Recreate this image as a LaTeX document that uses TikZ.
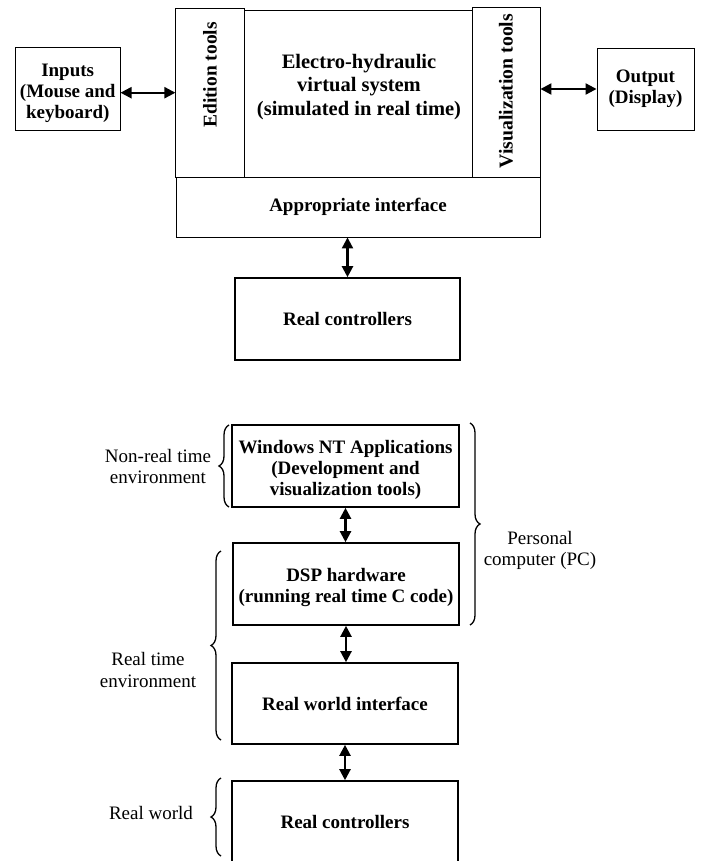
\documentclass[tikz,border=0pt]{standalone}
\usepackage{fontspec}
\setmainfont{Liberation Serif}
\usetikzlibrary{arrows.meta,decorations.pathreplacing}
\begin{document}
\begin{tikzpicture}[x=1pt,y=-1pt,
  thinbox/.style={draw,line width=0.9pt,inner sep=0pt,align=center,
    font=\fontsize{19}{21}\selectfont\bfseries},
  thickbox/.style={thinbox,line width=1.6pt},
  btext/.style={inner sep=0pt,align=center,font=\fontsize{19}{21}\selectfont\bfseries},
  lbl/.style={inner sep=0pt,align=center,font=\fontsize{19}{21.5}\selectfont},
  darrow/.style={{Triangle[length=11pt,width=11pt]}-{Triangle[length=11pt,width=11pt]},line width=2.2pt},
  bracestyle/.style={decorate,decoration={brace,amplitude=10pt},line width=1.3pt}]
\clip (0,0) rectangle (701,861);
% top part
\node[thinbox,minimum width=104.7pt,minimum height=83pt] (inputs) at (67.7,88.5) {};
\node[btext] (intext) at (67.7,93) {Inputs\\(Mouse and\\keyboard)};
\node[thinbox,minimum width=68.3pt,minimum height=168.7pt] (edition) at (210,92.7) {};
\node[btext,rotate=90,font=\fontsize{19.5}{21}\selectfont\bfseries] (edlbl) at (210,75) {Edition tools};
\node[thinbox,minimum width=228pt,minimum height=167pt] (ehsys) at (358,93.5) {};
\node[btext,font=\fontsize{20.5}{23.5}\selectfont\bfseries] (ehtext) at (359,87) {Electro-hydraulic\\virtual system\\(simulated in real time)};
\node[thinbox,minimum width=68pt,minimum height=169.7pt] (vis) at (506,92.2) {};
\node[btext,rotate=90,font=\fontsize{19.7}{21}\selectfont\bfseries] (vislbl) at (506,91) {Visualization tools};
\node[thinbox,minimum width=97pt,minimum height=82pt] (output) at (645.5,89) {Output\\(Display)};
\node[thinbox,minimum width=364pt,minimum height=60pt] (interface) at (358,207) {Appropriate interface};
\node[thickbox,minimum width=225pt,minimum height=82pt] (rc1) at (347.5,319) {Real controllers};
\coordinate (inA) at ([yshift=-4.2pt]inputs.east);
\draw[darrow] (inA) -- (inA -| edition.west);
\draw[darrow] (output.west -| vis.east) -- (output.west);
\draw[darrow] (rc1.north |- interface.south) -- (rc1.north);
% bottom part
\node[thickbox,minimum width=227pt,minimum height=82pt] (win) at (345.5,466) {};
\node[btext] (wintext) at (345.5,470) {Windows NT Applications\\(Development and\\visualization tools)};
\node[thickbox,minimum width=226pt,minimum height=82pt] (dsp) at (346,584) {};
\node[btext] (dsptext) at (346,587) {DSP hardware\\(running real time C code)};
\node[thickbox,minimum width=226pt,minimum height=81pt] (rwi) at (345,703.5) {Real world interface};
\node[thickbox,minimum width=226pt,minimum height=82pt] (rc2) at (345,822) {Real controllers};
\draw[darrow] (win.south) -- (win.south |- dsp.north);
\draw[darrow] (dsp.south) -- (dsp.south |- rwi.north);
\draw[darrow] (rwi.south) -- (rwi.south |- rc2.north);
% braces
\coordinate (b1a) at (229,507); \coordinate (b1b) at (229,425);
\draw[bracestyle] (b1a) -- (b1b);
\coordinate (b2a) at (221,740); \coordinate (b2b) at (221,551);
\draw[bracestyle] (b2a) -- (b2b);
\coordinate (b3a) at (221,856); \coordinate (b3b) at (221,778);
\draw[bracestyle] (b3a) -- (b3b);
\coordinate (b4a) at (470,423); \coordinate (b4b) at (470,625);
\draw[bracestyle] (b4a) -- (b4b);
\node[lbl] (nrt) at (158,466.5) {Non-real time\\environment};
\node[lbl] (rt) at (148,670) {Real time\\environment};
\node[lbl] (rw) at (151,813) {Real world};
\node[lbl] (pc) at (540,550.5) {Personal\\computer (PC)};
\end{tikzpicture}
\end{document}
